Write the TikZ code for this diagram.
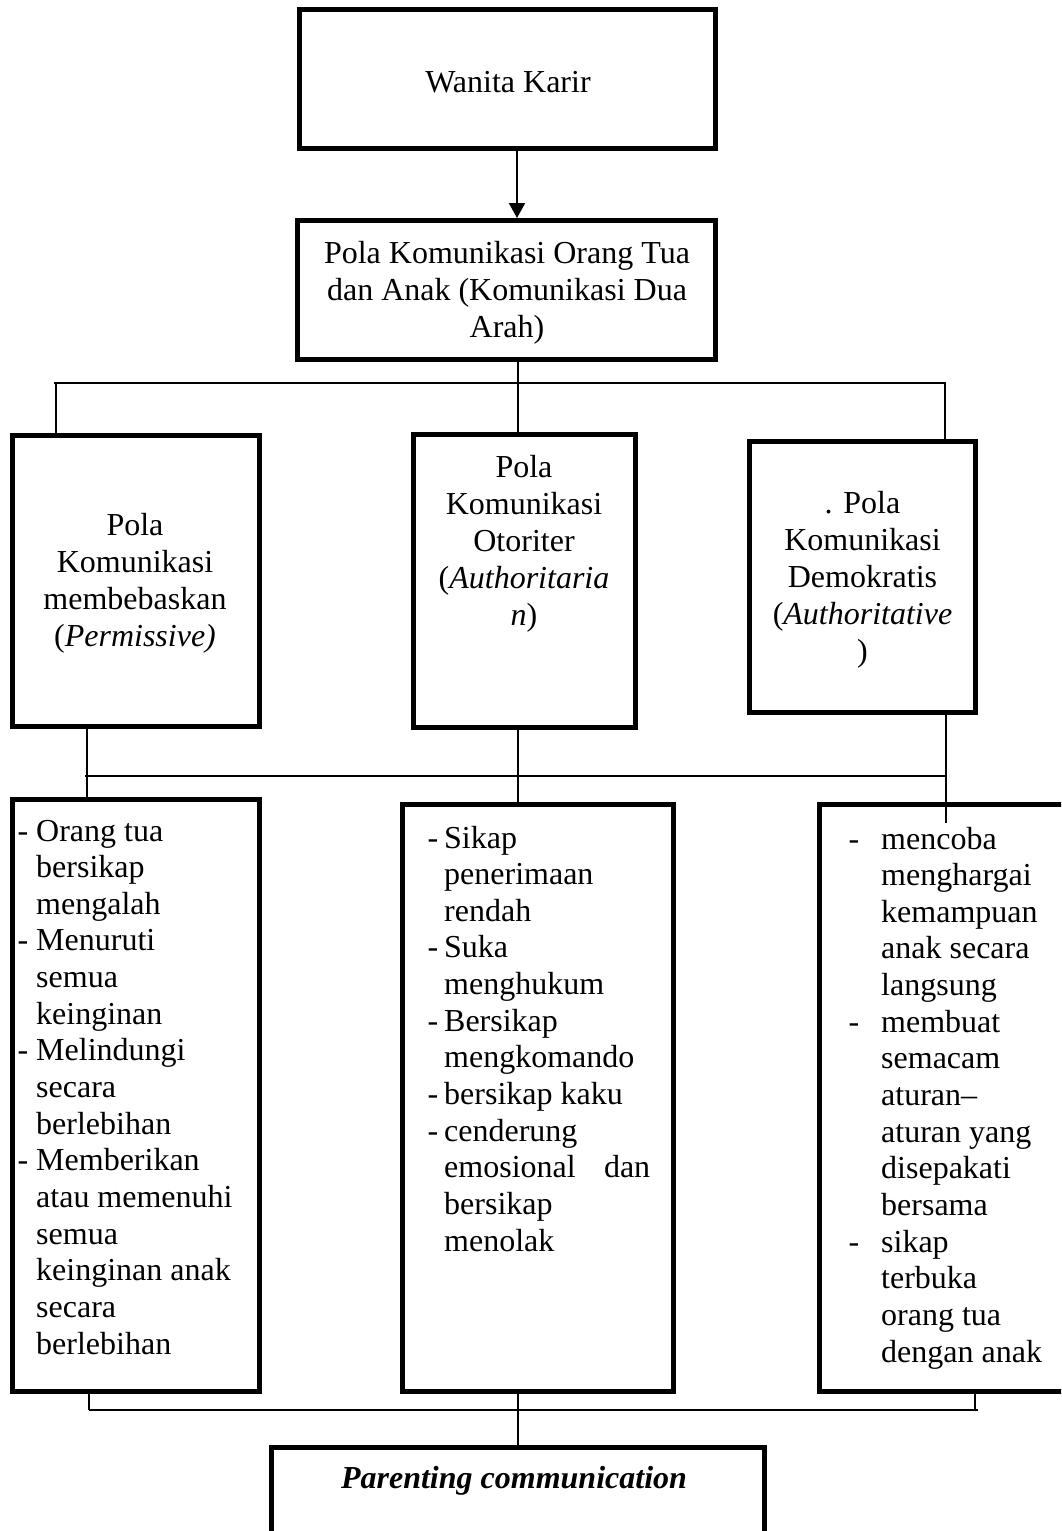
\documentclass[tikz,border=0pt]{standalone}
\usepackage{fontspec}
\setmainfont{Liberation Serif}
\usetikzlibrary{arrows.meta}
\newcommand\dsh[1]{\leavevmode\llap{-\hspace{#1}}}
\tikzset{
  boxs/.style={draw=black, line width=5pt, fill=white, rectangle, inner sep=0pt},
  con/.style={draw=black, line width=1.5pt},
  arr/.style={draw=black, line width=2pt, -{Triangle[length=15pt,width=16pt]}},
  txt/.style={inner sep=0pt, anchor=base, font=\fontsize{32pt}{37pt}\selectfont},
  ltxt/.style={inner sep=0pt, anchor=base west, font=\fontsize{32pt}{36.65pt}\selectfont}
}
\begin{document}
\begin{tikzpicture}[x=1pt,y=-1pt]
\useasboundingbox (0,0) rectangle (1061,1531);
\fill[white] (0,0) rectangle (1061,1531);
\clip (0,0) rectangle (1061,1531);

% boxes
\node[boxs, minimum width=416pt, minimum height=139pt] (B1) at (507.5,79) {};
\node[boxs, minimum width=418pt, minimum height=139pt] (B2) at (506.5,290) {};
\node[boxs, minimum width=247pt, minimum height=291pt] (L2a) at (136,581) {};
\node[boxs, minimum width=222pt, minimum height=293pt] (L2b) at (524.5,581) {};
\node[boxs, minimum width=226pt, minimum height=271pt] (L2c) at (862.5,577) {};
\node[boxs, minimum width=247pt, minimum height=592pt] (L3a) at (136,1095.5) {};
\node[boxs, minimum width=271pt, minimum height=587pt] (L3b) at (538,1098) {};
\node[boxs, minimum width=250.5pt, minimum height=587pt] (L3c) at (944.75,1098) {};
\node[boxs, minimum width=493pt, minimum height=112.5pt] (B4) at (518,1503.75) {};

% texts
\node[txt] (tB1) at (508,92) {Wanita Karir};
\node[txt] (tB2) at (507,263) {\parbox[t]{400pt}{\centering Pola Komunikasi Orang Tua\\dan Anak (Komunikasi Dua\\Arah)}};
\node[txt] (tL2a) at (135,535) {\parbox[t]{240pt}{\centering Pola\\Komunikasi\\membebaskan\\(\textit{Permissive)}}};
\node[txt] (tL2b) at (524,477) {\parbox[t]{215pt}{\centering Pola\\Komunikasi\\Otoriter\\(\textit{Authoritaria}\\\textit{n})}};
\node[txt] (tL2c) at (862.5,513) {\parbox[t]{220pt}{\centering . Pola\\Komunikasi\\Demokratis\\(\textit{Authoritative}\\)}};

\node[ltxt] (tL3a) at (36,841) {\parbox[t]{222pt}{\raggedright
\dsh{8pt}Orang tua\\
bersikap\\
mengalah\\
\dsh{8pt}Menuruti\\
semua\\
keinginan\\
\dsh{8pt}Melindungi\\
secara\\
berlebihan\\
\dsh{8pt}Memberikan\\
atau memenuhi\\
semua\\
keinginan anak\\
secara\\
berlebihan}};

\node[ltxt] (tL3b) at (444,848) {\parbox[t]{222pt}{\raggedright
\dsh{6pt}Sikap\\
penerimaan\\
rendah\\
\dsh{6pt}Suka\\
menghukum\\
\dsh{6pt}Bersikap\\
mengkomando\\
\dsh{6pt}bersikap kaku\\
\dsh{6pt}cenderung\\
\makebox[206pt][s]{emosional\hfill dan}\\
bersikap\\
menolak}};

\node[ltxt] (tL3c) at (881,849) {\parbox[t]{175pt}{\raggedright
\dsh{22pt}mencoba\\
menghargai\\
kemampuan\\
anak secara\\
langsung\\
\dsh{22pt}membuat\\
semacam\\
aturan--\\
aturan yang\\
disepakati\\
bersama\\
\dsh{22pt}sikap\\
terbuka\\
orang tua\\
dengan anak}};

\node[txt] (tB4) at (514,1488) {\textbf{\textit{Parenting communication}}};

% connector coordinates
\coordinate (ax) at (517,0);
\coordinate (vM) at (518,0);
\coordinate (vL1) at (56,0);
\coordinate (vR1) at (945,0);
\coordinate (h1L) at (54,383);
\coordinate (h1R) at (946,383);
\coordinate (vL2) at (87,0);
\coordinate (vR2) at (946,0);
\coordinate (h2L) at (85,776);
\coordinate (h2R) at (947,776);
\coordinate (vR2e) at (946,823);
\coordinate (vL3) at (89,0);
\coordinate (vR3) at (975,0);
\coordinate (h3L) at (89,1410);
\coordinate (h3R) at (978,1410);

% connectors
\draw[arr] (B1.south -| ax) -- (B2.north -| ax);

\draw[con] (B2.south -| vM) -- (L2b.north -| vM);
\draw[con] (h1L) -- (h1R);
\draw[con] (vL1 |- h1L) -- (L2a.north -| vL1);
\draw[con] (vR1 |- h1R) -- (L2c.north -| vR1);

\draw[con] (L2a.south -| vL2) -- (L3a.north -| vL2);
\draw[con] (h2L) -- (h2R);
\draw[con] (L2b.south -| vM) -- (L3b.north -| vM);
\draw[con] (L2c.south -| vR2) -- (vR2 |- h2R);
\draw[con] (vR2 |- h2R) -- (vR2e);

\draw[con] (L3a.south -| vL3) -- (h3L);
\draw[con] (h3L) -- (h3R);
\draw[con] (L3c.south -| vR3) -- (vR3 |- h3R);
\draw[con] (L3b.south -| vM) -- (B4.north -| vM);
\end{tikzpicture}
\end{document}
